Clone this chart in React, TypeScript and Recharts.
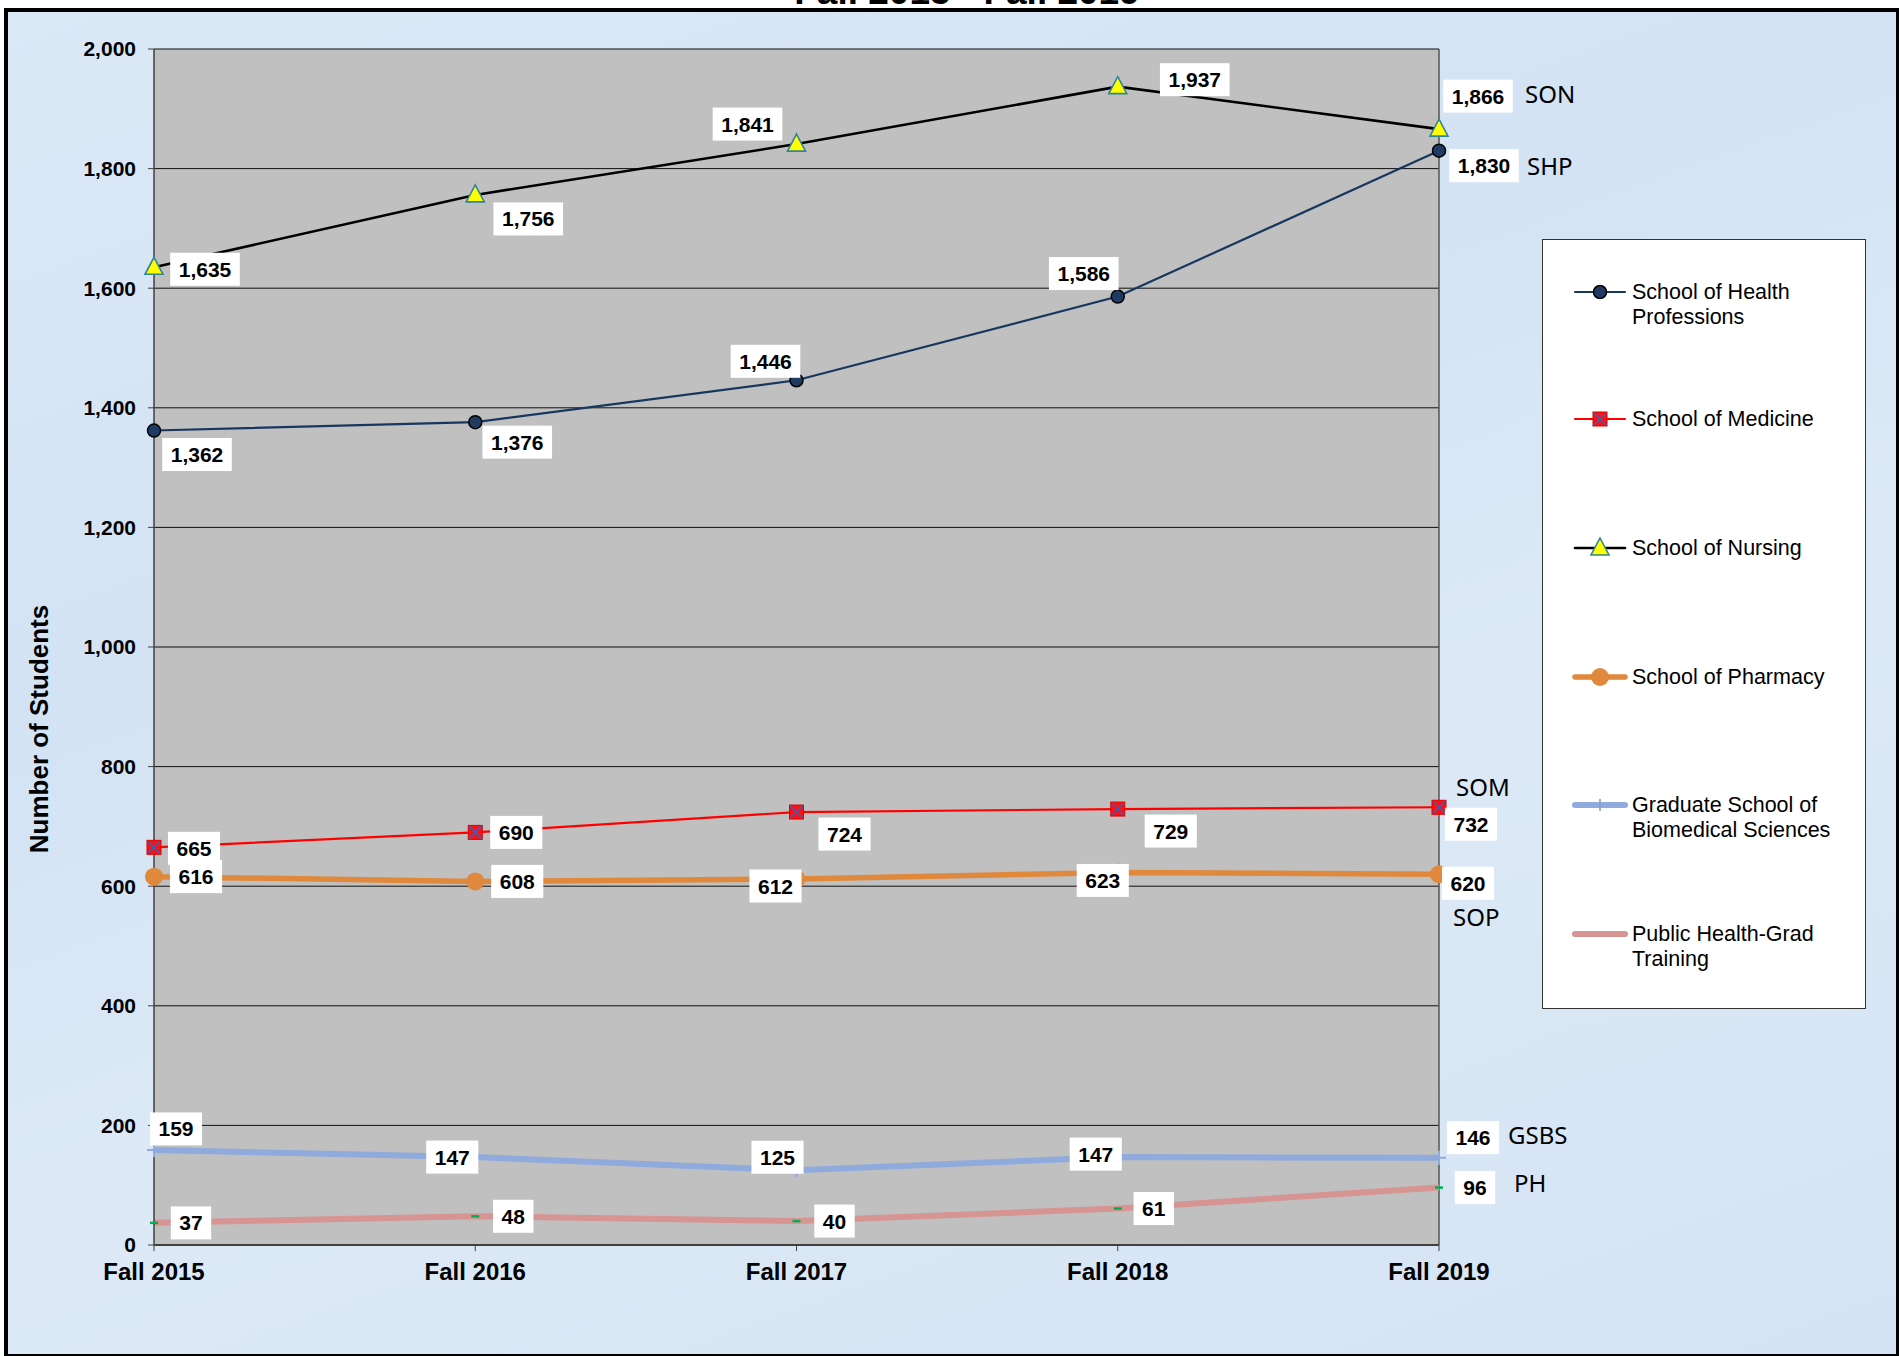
import { LineChart, Line, XAxis, YAxis, CartesianGrid, LabelList, ReferenceLine } from 'recharts'

const YEARS = ['Fall 2015', 'Fall 2016', 'Fall 2017', 'Fall 2018', 'Fall 2019']
const SHP = [1362, 1376, 1446, 1586, 1830]
const SOM = [665, 690, 724, 729, 732]
const SON = [1635, 1756, 1841, 1937, 1866]
const SOP = [616, 608, 612, 623, 620]
const GSBS = [159, 147, 125, 147, 146]
const PH = [37, 48, 40, 61, 96]
const Y_TICKS = [0, 200, 400, 600, 800, 1000, 1200, 1400, 1600, 1800, 2000]

const FONT = '"Liberation Sans", Arial, sans-serif'

// where each value box sits relative to its point (dx, dy of the box centre)
const LABEL_OFFSETS: Record<string, [number, number][]> = {
  shp: [[43, 24], [42, 20], [-31, -19], [-34, -23], [45, 15]],
  som: [[40, 1], [41, 0], [48, 22], [53, 22], [32, 17]],
  son: [[51, 2], [53, 24], [-49, -20], [77, -7], [39, -33]],
  sop: [[42, 0], [42, 0], [-21, 7], [-15, 8], [29, 9]],
  gsbs: [[22, -21], [-23, 0], [-19, -13], [-22, -3], [34, -20]],
  ph: [[37, 0], [38, 0], [38, 0], [36, 0], [36, 0]],
}
// short school tag next to the last point (dx of text start, dy of text centre)
const TAG_OFFSETS: Record<string, [number, number]> = {
  shp: [88, 15],
  som: [17, -21],
  son: [86, -36],
  sop: [14, 42],
  gsbs: [69, -23],
  ph: [75, -5],
}

type DotProps = { cx?: number; cy?: number; index?: number }

const shpDot = (k: string) => ({ cx = 0, cy = 0, index }: DotProps) => (
  <circle key={`${k}-${index}`} cx={cx} cy={cy} r={6.5} fill="#1f3b63" stroke="#000" strokeWidth={1.5} />
)
const somDot = (k: string) => ({ cx = 0, cy = 0, index }: DotProps) => (
  <g key={`${k}-${index}`}>
    <rect x={cx - 7} y={cy - 7} width={14} height={14} fill="#ff1010" stroke="#e00000" strokeWidth={1} />
    <path d={`M${cx - 6},${cy - 6}L${cx + 6},${cy + 6}M${cx + 6},${cy - 6}L${cx - 6},${cy + 6}`} stroke="#3a5fb8" strokeWidth={1.6} />
  </g>
)
const sonDot = (k: string) => ({ cx = 0, cy = 0, index }: DotProps) => (
  <polygon
    key={`${k}-${index}`}
    points={`${cx},${cy - 10} ${cx + 9},${cy + 7} ${cx - 9},${cy + 7}`}
    fill="#ffff00"
    stroke="#31849b"
    strokeWidth={1.6}
  />
)
const sopDot = (k: string) => ({ cx = 0, cy = 0, index }: DotProps) => (
  <circle key={`${k}-${index}`} cx={cx} cy={cy} r={9} fill="#e0883c" />
)
const gsbsDot = (k: string) => ({ cx = 0, cy = 0, index }: DotProps) => (
  <path key={`${k}-${index}`} d={`M${cx - 7},${cy}L${cx + 7},${cy}M${cx},${cy - 7}L${cx},${cy + 7}`} stroke="#8faadc" strokeWidth={2} />
)
const phDot = (k: string) => ({ cx = 0, cy = 0, index }: DotProps) => (
  <path key={`${k}-${index}`} d={`M${cx - 4},${cy}L${cx + 4},${cy}`} stroke="#00b050" strokeWidth={2.5} />
)

const SERIES = [
  { key: 'shp', name: 'School of Health Professions', tag: 'SHP', values: SHP, color: '#17375e', width: 2.2, dot: shpDot },
  { key: 'som', name: 'School of Medicine', tag: 'SOM', values: SOM, color: '#ff0000', width: 2.2, dot: somDot },
  { key: 'son', name: 'School of Nursing', tag: 'SON', values: SON, color: '#000000', width: 2.6, dot: sonDot },
  { key: 'sop', name: 'School of Pharmacy', tag: 'SOP', values: SOP, color: '#e0883c', width: 5.5, dot: sopDot },
  { key: 'gsbs', name: 'Graduate School of Biomedical Sciences', tag: 'GSBS', values: GSBS, color: '#8faadc', width: 6, dot: gsbsDot },
  { key: 'ph', name: 'Public Health-Grad Training', tag: 'PH', values: PH, color: '#d69492', width: 6, dot: phDot },
]

const LEGEND_LINES: Record<string, string[]> = {
  shp: ['School of Health', 'Professions'],
  som: ['School of Medicine'],
  son: ['School of Nursing'],
  sop: ['School of Pharmacy'],
  gsbs: ['Graduate School of', 'Biomedical Sciences'],
  ph: ['Public Health-Grad', 'Training'],
}

const chartData = YEARS.map((year, i) => {
  const row: Record<string, string | number> = { year }
  for (const s of SERIES) row[s.key] = s.values[i]
  return row
})

const fmt = (v: number) => v.toLocaleString('en-US')

function textWidth(s: string) {
  let w = 0
  for (const ch of s) w += ch === ',' ? 5.8 : 11.7
  return w
}

const makeLabel = (key: string, tag: string) => (props: any) => {
  const { x, y, value, index } = props
  const [dx, dy] = LABEL_OFFSETS[key][index]
  const txt = fmt(Number(value))
  const w = textWidth(txt) + 17
  const h = 33
  const cx = Number(x) + dx
  const cy = Number(y) + dy
  const tagOff = TAG_OFFSETS[key]
  return (
    <g key={`${key}-lbl-${index}`}>
      <rect x={cx - w / 2} y={cy - h / 2} width={w} height={h} fill="#ffffff" />
      <text x={cx} y={cy} textAnchor="middle" dominantBaseline="central" fontFamily={FONT} fontWeight="bold" fontSize={21} fill="#000">
        {txt}
      </text>
      {index === YEARS.length - 1 && (
        <text
          x={Number(x) + tagOff[0]}
          y={Number(y) + tagOff[1]}
          textAnchor="start"
          dominantBaseline="central"
          fontFamily='"Noto Sans", "Open Sans", sans-serif'
          fontSize={24}
          fill="#000"
        >
          {tag}
        </text>
      )}
    </g>
  )
}

function LegendIcon({ s }: { s: (typeof SERIES)[number] }) {
  const Dot = s.dot('lg')
  return (
    <svg width={56} height={24} style={{ display: 'block' }}>
      <line x1={3} y1={12} x2={53} y2={12} stroke={s.color} strokeWidth={s.width} strokeLinecap="round" />
      {s.key !== 'ph' && s.key !== 'gsbs' && Dot({ cx: 28, cy: 12, index: 0 })}
      {s.key === 'gsbs' && <line x1={28} y1={6} x2={28} y2={18} stroke="#7f9acb" strokeWidth={1.5} />}
    </svg>
  )
}

function ChartLegend() {
  const centers = [52, 179, 308, 437, 565, 694]
  return (
    <div
      style={{
        position: 'absolute',
        left: 1542,
        top: 239,
        width: 322,
        height: 768,
        background: '#fff',
        border: '1.5px solid #333',
        fontFamily: FONT,
        fontSize: 21.5,
        color: '#000',
      }}
    >
      {SERIES.map((s, i) => (
        <div key={s.key} style={{ position: 'absolute', left: 29, top: centers[i] - 12, display: 'flex', alignItems: 'flex-start' }}>
          <LegendIcon s={s} />
          <div style={{ lineHeight: '24.5px', marginLeft: 4 }}>
            {LEGEND_LINES[s.key].map((l) => (
              <div key={l}>{l}</div>
            ))}
          </div>
        </div>
      ))}
    </div>
  )
}

export default function App() {
  return (
    <div style={{ position: 'absolute', left: 0, top: 0, width: 1899, height: 1356, overflow: 'hidden', background: '#fff' }}>
      <div
        style={{
          position: 'absolute',
          left: 4,
          top: 8,
          width: 1888,
          height: 1342,
          border: '4px solid #000',
          background: 'linear-gradient(160deg, #dbe8f6 0%, #d3e3f4 35%, #dde9f6 60%, #d4e3f3 100%)',
        }}
      />
      <div
        style={{
          position: 'absolute',
          left: 0,
          width: 1934,
          top: -27,
          textAlign: 'center',
          fontFamily: FONT,
          fontWeight: 'bold',
          fontSize: 37,
          lineHeight: '37px',
          color: '#000',
        }}
      >
        Fall 2015 - Fall 2019
      </div>
      <div
        style={{
          position: 'absolute',
          left: 39,
          top: 729,
          transform: 'translate(-50%, -50%) rotate(-90deg)',
          whiteSpace: 'nowrap',
          fontFamily: FONT,
          fontWeight: 'bold',
          fontSize: 26,
          color: '#000',
        }}
      >
        Number of Students
      </div>
      <LineChart
        width={1899}
        height={1356}
        data={chartData}
        margin={{ top: 49, right: 460, bottom: 81, left: 94 }}
        style={{ position: 'absolute', left: 0, top: 0 }}
      >
        <CartesianGrid vertical={false} stroke="#111" strokeWidth={1} fill="#c0c0c0" fillOpacity={1} />
        <XAxis
          dataKey="year"
          height={30}
          interval={0}
          padding={{ left: 0, right: 0 }}
          axisLine={{ stroke: '#404040', strokeWidth: 2 }}
          tickLine={{ stroke: '#404040' }}
          tickSize={6}
          tickMargin={12}
          tick={{ fill: '#000', fontSize: 24, fontWeight: 'bold', fontFamily: FONT }}
        />
        <YAxis
          width={60}
          domain={[0, 2000]}
          ticks={Y_TICKS}
          tickFormatter={fmt}
          axisLine={{ stroke: '#404040', strokeWidth: 1.5 }}
          tickLine={{ stroke: '#404040' }}
          tickSize={6}
          tickMargin={12}
          tick={{ fill: '#000', fontSize: 21, fontWeight: 'bold', fontFamily: FONT }}
        />
        <ReferenceLine x="Fall 2019" stroke="#555" strokeWidth={1.5} />
        {SERIES.map((s) => (
          <Line
            key={s.key}
            dataKey={s.key}
            name={s.name}
            type="linear"
            stroke={s.color}
            strokeWidth={s.width}
            dot={s.dot(s.key)}
            activeDot={false}
            isAnimationActive={false}
          >
            <LabelList dataKey={s.key} content={makeLabel(s.key, s.tag)} />
          </Line>
        ))}
      </LineChart>
      <ChartLegend />
    </div>
  )
}
